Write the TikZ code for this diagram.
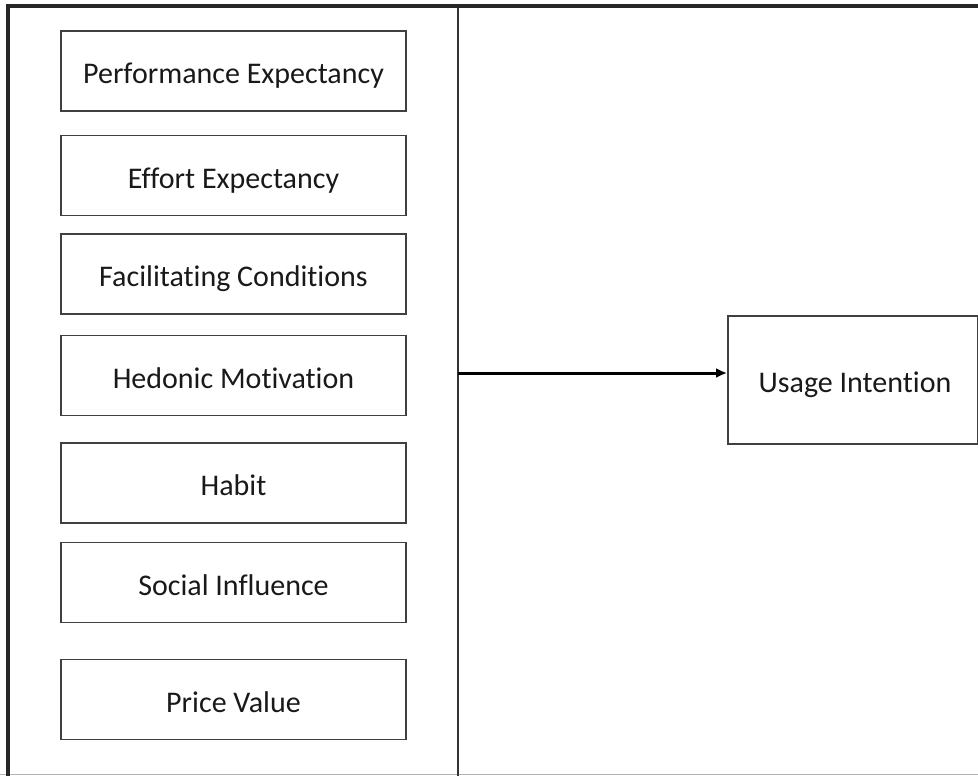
\documentclass[tikz,border=0pt]{standalone}
\usepackage{fontspec}
\setmainfont[Ligatures=NoCommon]{Carlito}
\usetikzlibrary{arrows.meta}
\begin{document}
\begin{tikzpicture}[x=1pt,y=-1pt,
  label font/.style={font=\fontsize{30}{33}\selectfont,text=black!90,
    text height=25pt,text depth=0pt},
  factor/.style={draw=black!75,line width=1.8pt,minimum width=345pt,minimum height=80pt,
    inner sep=0pt,label font},
  outcome/.style={draw=black!75,line width=1.8pt,minimum width=250pt,minimum height=128pt},
  link/.style={line width=3pt,-{Latex[length=11pt,width=10pt]}}]
  \useasboundingbox (0,0) rectangle (978,776);
  % frame of the left panel
  \coordinate (tl) at (8,6);
  \coordinate (bl) at (8,776);
  \coordinate (tr) at (978,6);
  \coordinate (pt) at (458,6);
  \coordinate (pb) at (458,776);
  \coordinate (fl) at (0,774.5);
  \coordinate (fr) at (978,774.5);
  \draw[black!30,line width=1.2pt] (fl) -- (fr);
  \draw[black!80,line width=2pt] (pt) -- (pb);
  \draw[black!85,line width=3.5pt] (bl) -- (tl) -- (tr);
  % factors
  \node[factor] (pe) at (233.5,71)  {Performance Expectancy};
  \node[factor] (ee) at (233.5,175.5) {Effort Expectancy};
  \node[factor] (fc) at (233.5,274) {Facilitating Conditions};
  \node[factor] (hm) at (233.5,375.5) {Hedonic Motivation};
  \node[factor] (hb) at (233.5,483) {Habit};
  \node[factor] (si) at (233.5,582.5) {Social Influence};
  \node[factor] (pv) at (233.5,699.5) {Price Value};
  % outcome
  \node[outcome] (ui) at (853,380) {};
  \node[label font,inner sep=0pt] (uit) at (855,380) {Usage Intention};
  % link from panel to outcome
  \coordinate (src) at (458,373);
  \draw[link] (src) -- (ui.west |- src);
\end{tikzpicture}
\end{document}
